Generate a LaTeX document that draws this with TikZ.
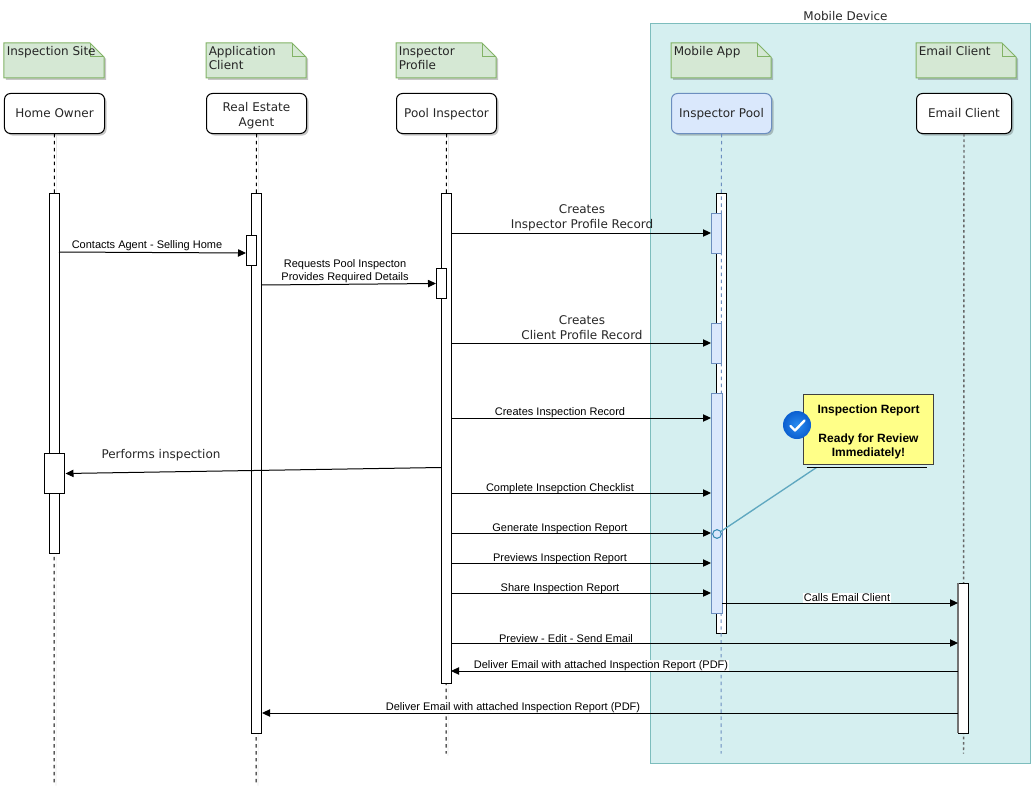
\documentclass[tikz,border=0pt]{standalone}
\usepackage{fontspec}
\setmainfont{DejaVu Sans}
\newfontfamily\lblfont{Liberation Sans}
\usetikzlibrary{arrows.meta,shadows,calc}
\definecolor{devfill}{HTML}{D5EFF0}
\definecolor{devline}{HTML}{7DBDBD}
\definecolor{notefill}{HTML}{D5E8D4}
\definecolor{noteline}{HTML}{82B366}
\definecolor{poolfill}{HTML}{DAE8FC}
\definecolor{poolline}{HTML}{6C8EBF}
\definecolor{callfill}{HTML}{FFFF88}
\definecolor{leader}{HTML}{5FA8C0}
\definecolor{hitline}{HTML}{2F86B0}
\definecolor{tickin}{HTML}{2A8BEF}
\definecolor{tickout}{HTML}{0B5FD0}
\tikzset{
  softshadow/.style={drop shadow={shadow xshift=1.5pt,shadow yshift=-1.5pt,opacity=.22,fill=black}},
  pane/.style={draw=devline,fill=devfill,line width=.75pt},
  notebody/.style={draw=noteline,fill=notefill,line width=.75pt,line join=miter,softshadow},
  notefold/.style={draw=noteline,line width=.75pt},
  notelabel/.style={anchor=north west,align=left,inner sep=0pt,font=\fontsize{9}{10.4}\selectfont,text=black!85},
  head/.style={draw=black,fill=white,rounded corners=4.5pt,line width=.75pt,inner sep=0pt,align=center,
    font=\fontsize{9}{11}\selectfont,text=black!85,softshadow},
  poolhead/.style={head,draw=poolline,fill=poolfill},
  lifeline/.style={draw=black,line width=.75pt,dash pattern=on 2.6pt off 2.6pt,
    preaction={draw=black,opacity=.10,transform canvas={shift={(1.5pt,-1.5pt)}}}},
  poolife/.style={draw=poolline,line width=.75pt,dash pattern=on 2.6pt off 2.6pt},
  emaillife/.style={draw=black!60,line width=1.1pt,dash pattern=on 2pt off 2pt},
  bar/.style={draw=black,fill=white,line width=.75pt,inner sep=0pt,outer sep=0pt},
  poolbar/.style={draw=poolline,fill=poolfill,line width=.75pt,inner sep=0pt,outer sep=0pt},
  msg/.style={draw=black,line width=.75pt,-{Triangle[length=6pt,width=5.5pt]}},
  smalllbl/.style={font=\lblfont\fontsize{8.25}{9.6}\selectfont,inner sep=.4pt,fill=white,text=black,align=center},
  biglbl/.style={font=\fontsize{9}{11.2}\selectfont,inner sep=0pt,align=center,text=black!85},
  callout/.style={draw=black!75,fill=callfill,line width=.75pt,inner sep=0pt,align=center,
    font=\lblfont\bfseries\fontsize{9}{10.9}\selectfont,text=black},
  leaderline/.style={draw=leader,line width=1pt},
}
% name, style, x1, y1, x2, y2 in reference pixels
\newcommand{\boxat}[6]{%
  \node[#2,minimum width={(#5-#3)*.75pt},minimum height={(#6-#4)*.75pt},anchor=north west] (#1) at (#3,#4) {};}
\newcommand{\notebox}[4]{% name, x, lines of text
  \filldraw[notebody] (#2,43.5) -- (#2+86,43.5) -- (#2+100,57.5) -- (#2+100,78.5) -- (#2,78.5) -- cycle;
  \draw[notefold] (#2+86,43.5) -- (#2+86,57.5) -- (#2+100,57.5);
  \node[notelabel] (#1) at (#2+2.5,47) {#3};}
\newcommand{\onerow}{\rule[-2.5pt]{0pt}{10.5pt}}
\begin{document}
\begin{tikzpicture}[x=.75pt,y=-.75pt]
\useasboundingbox (.5,.5) rectangle (1031.5,792.5);
% device pane
\boxat{pane}{pane}{650.5}{23.5}{1030.5}{763.5}
\node[biglbl] (panetitle) at (846,16.5) {Mobile Device};
% notes
\notebox{n1}{4.5}{Inspection Site}{}
\notebox{n2}{206.5}{Application\\Client}{}
\notebox{n3}{396.5}{Inspector\\Profile}{}
\notebox{n4}{671.5}{Mobile App}{}
\notebox{n5}{916.5}{Email Client}{}
% heads
\node[head,minimum width=75pt,minimum height=30pt,anchor=north west] (owner) at (4.5,93.5) {\onerow Home Owner};
\node[head,minimum width=75pt,minimum height=30pt,anchor=north west] (agent) at (206.5,93.5) {\rule{0pt}{10pt}Real Estate\\Agent};
\node[head,minimum width=75pt,minimum height=30pt,anchor=north west] (insp) at (396.5,93.5) {\onerow Pool Inspector};
\node[poolhead,minimum width=75pt,minimum height=30pt,anchor=north west] (pool) at (671.5,93.5) {\onerow Inspector Pool};
\node[head,minimum width=71.25pt,minimum height=30pt,anchor=north west] (mail) at (916.5,93.5) {\onerow Email Client};
% lifeline ends
\coordinate (ownerend) at (54.5,784);
\coordinate (agentend) at (256.5,784);
\coordinate (inspend) at (446.5,754);
\coordinate (poolend) at (721.5,754);
\coordinate (mailend) at (964,754);
\draw[lifeline] (owner.south) -- (ownerend);
\draw[lifeline] (agent.south) -- (agentend);
\draw[lifeline] (insp.south) -- (inspend);
\draw[emaillife] (mail.south) -- (mailend);
% activation bars
\boxat{b1}{bar}{49.5}{193.5}{59.5}{553.5}
\boxat{b1a}{bar}{44.5}{453.5}{64.5}{493.5}
\boxat{b2}{bar}{251.5}{193.5}{261.5}{733.5}
\boxat{b2a}{bar}{246.5}{235.5}{256.5}{265.5}
\boxat{b3}{bar}{441.5}{193.5}{451.5}{683.5}
\boxat{b3a}{bar}{436.5}{268.5}{446.5}{298.5}
\boxat{b4}{bar}{716.5}{193.5}{726.5}{633.5}
\draw[poolife] (pool.south) -- (poolend);
\boxat{b4a}{poolbar}{711.5}{213.5}{721.5}{253.5}
\boxat{b4b}{poolbar}{711.5}{323.5}{721.5}{363.5}
\boxat{b4c}{poolbar}{711.5}{393.5}{722.5}{613.5}
\boxat{b5}{bar}{958.5}{583.5}{968.5}{733.5}
\draw[black!55,line width=1.1pt] (b5.north west) -- (b5.south west);
% message labels (white plates sit under the connector lines)
\node[smalllbl] (m1) at (147.5,246.5) {Contacts Agent - Selling Home};
\node[smalllbl,fill=none] (m2) at (345.5,271.5) {Requests Pool Inspecton\\Provides Required Details};
\node[biglbl] (m3) at (582.5,218.5) {Creates\\Inspector Profile Record};
\node[biglbl] (m4) at (582.5,328.5) {Creates\\Client Profile Record};
\node[smalllbl] (m5) at (560.5,413.5) {Creates Inspection Record};
\node[biglbl] (m6) at (161.5,456) {Performs inspection};
\node[smalllbl] (m7) at (560.5,489) {Complete Insepction Checklist};
\node[smalllbl] (m8) at (560.5,529) {Generate Inspection Report};
\node[smalllbl] (m9) at (560.5,559) {Previews Inspection Report};
\node[smalllbl] (m10) at (560.5,589) {Share Inspection Report};
\node[smalllbl] (m11) at (847.5,598.5) {Calls Email Client};
\node[smalllbl] (m12) at (566.5,639) {Preview - Edit - Send Email};
\node[smalllbl] (m13) at (601.5,666.5) {Deliver Email with attached Inspection Report (PDF)};
\node[smalllbl] (m14) at (513.5,708.5) {Deliver Email with attached Inspection Report (PDF)};
% messages
\draw[msg] (b1.east |- 0,252.5) -- (b2a.west |- 0,253.5);
\draw[msg] (b2.east |- 0,285.5) -- (b3a.west |- 0,284);
\draw[msg] (b3.east |- 0,233.5) -- (b4a.west |- 0,233.5);
\draw[msg] (b3.east |- 0,343.5) -- (b4b.west |- 0,343.5);
\draw[msg] (b3.east |- 0,418.5) -- (b4c.west |- 0,418.5);
\draw[msg] (b3.west |- 0,468) -- ($(b1a.east |- 0,474)+(1.5,0)$);
\draw[msg] (b3.east |- 0,493.5) -- (b4c.west |- 0,493.5);
\draw[msg] (b3.east |- 0,533.5) -- (b4c.west |- 0,533.5);
\draw[msg] (b3.east |- 0,563.5) -- (b4c.west |- 0,563.5);
\draw[msg] (b3.east |- 0,593.5) -- (b4c.west |- 0,593.5);
\draw[msg] (b4c.east |- 0,603.5) -- (b5.west |- 0,603.5);
\draw[msg] (b3.east |- 0,643.5) -- (b5.west |- 0,643.5);
\draw[msg] (b5.west |- 0,671.5) -- (b3.east |- 0,671.5);
\draw[msg] (b5.west |- 0,713.5) -- ($(b2.east |- 0,713.5)+(1,0)$);
% call-out
\coordinate (rulea) at (807,468);
\coordinate (ruleb) at (927,468);
\coordinate (legfoot) at (817,468);
\node[draw=hitline,fill=poolfill,circle,line width=.75pt,minimum size=6.5pt,inner sep=0pt] (hit) at (717.5,534.5) {};
\draw[leaderline] (legfoot) -- (hit);
\draw[draw=black,line width=.75pt] (rulea) -- (ruleb);
\node[callout,minimum width=97.5pt,minimum height=52.5pt,anchor=north west] (note) at (803.5,394.5) {\rule{0pt}{10pt}Inspection Report\\[10.9pt]Ready for Review\\Immediately!};
\node[circle,minimum size=21pt,inner sep=0pt,inner color=tickin,outer color=tickout] (tick) at (797.5,425.5) {};
\draw[white,line width=1.8pt,line cap=round,line join=round] (791,426.5) -- (795.5,431) -- (805,421);
\end{tikzpicture}
\end{document}
